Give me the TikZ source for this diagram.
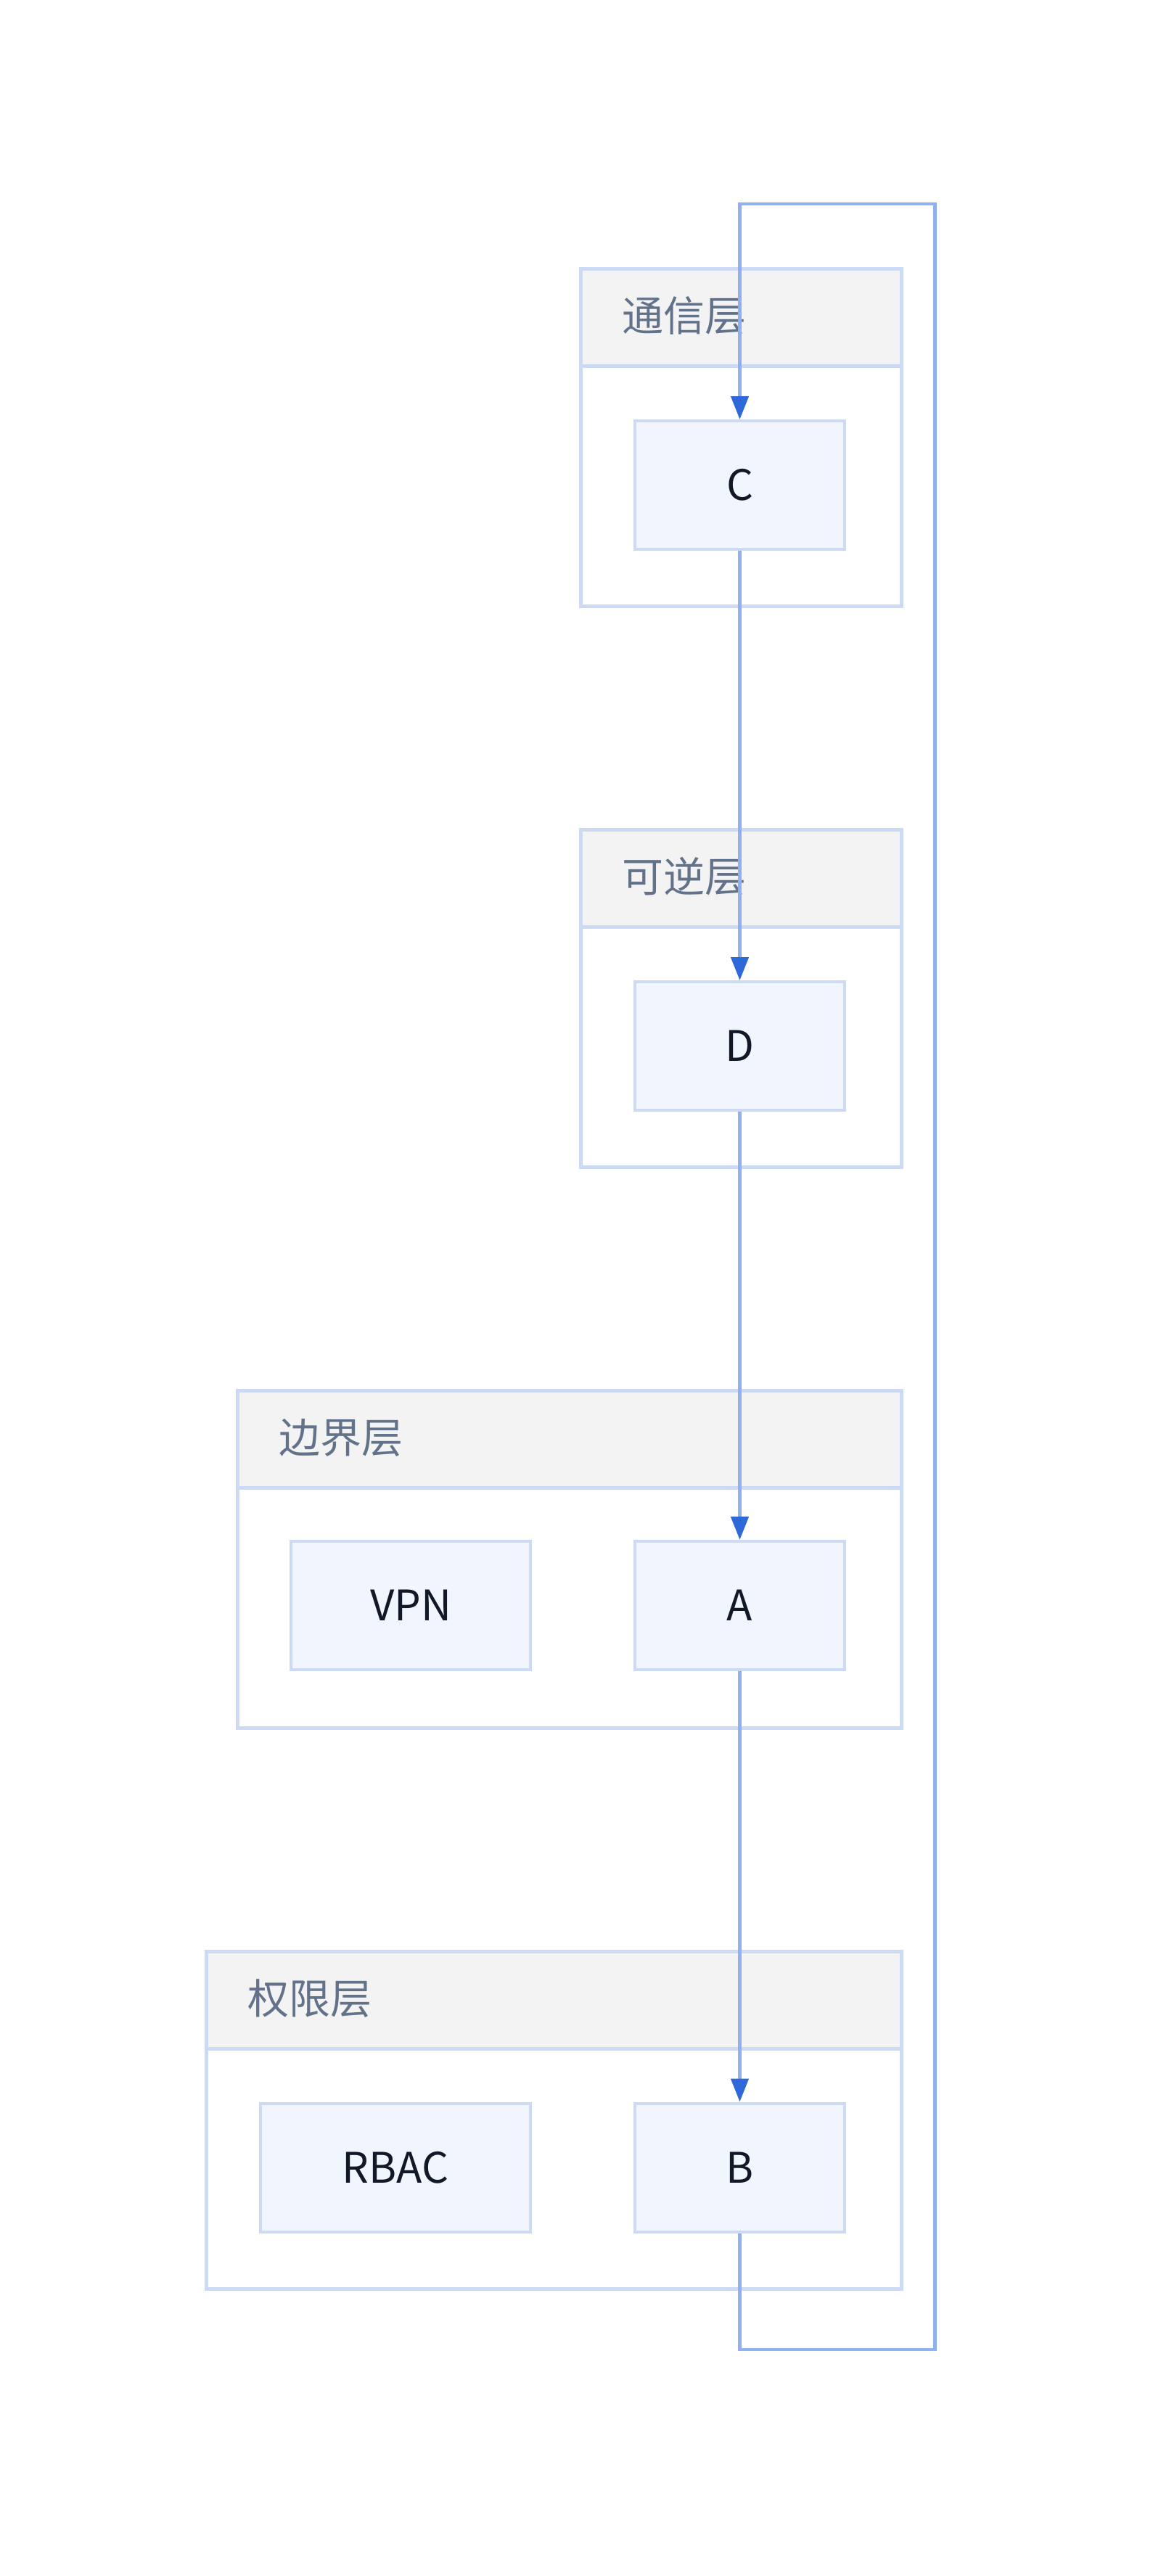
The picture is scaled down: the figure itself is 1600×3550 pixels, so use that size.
\documentclass[tikz,border=0pt]{standalone}
\usepackage{fontspec}
\setmainfont{Noto Sans CJK SC}
\usetikzlibrary{arrows.meta}
\definecolor{clborder}{HTML}{CCDBF3}
\definecolor{hdrfill}{HTML}{F3F3F3}
\definecolor{boxfill}{HTML}{F1F6FE}
\definecolor{edgeblue}{HTML}{8FB1EF}
\definecolor{tipblue}{HTML}{2F69D9}
\definecolor{hdrtext}{HTML}{62728A}
\definecolor{nodetext}{HTML}{111827}
\tikzset{
  cluster/.style={draw=clborder, line width=4.5pt, fill=white, minimum height=465pt, inner sep=0pt},
  header/.style={draw=clborder, line width=4.5pt, fill=hdrfill, minimum height=134pt, inner sep=0pt},
  hdrlabel/.style={anchor=west, text=hdrtext, font=\fontsize{57}{60}\selectfont, inner sep=0pt},
  box/.style={draw=clborder, line width=4pt, fill=boxfill, minimum height=177pt, inner sep=0pt, text=nodetext, font=\fontsize{58}{60}\selectfont},
  edge/.style={draw=edgeblue, line width=4.5pt, -{Triangle[length=32pt,width=24pt,color=tipblue]}},
  loopedge/.style={draw=edgeblue, line width=4.5pt}
}
\begin{document}
\begin{tikzpicture}[x=1pt,y=-1pt]
\useasboundingbox (0,0) rectangle (1600,3550);
% clusters
\foreach \nm/\lx/\ty/\lab in {c1/798/368/通信层, c2/798/1141/可逆层, c3/325/1914/边界层, c4/282/2687/权限层}{
  \node[cluster, minimum width={1240pt-\lx pt}, anchor=north west] (\nm) at (\lx,\ty) {};
  \node[header, minimum width={1240pt-\lx pt}, anchor=north west] (\nm h) at (\lx,\ty) {};
  \node[hdrlabel] (\nm t) at ({\lx+59},{\ty+67}) {\lab};
}
% nodes
\node[box, minimum width=289pt] (C) at (1019.5,668.5) {C};
\node[box, minimum width=289pt] (D) at (1019.5,1441.5) {D};
\node[box, minimum width=289pt] (A) at (1019.5,2212.5) {A};
\node[box, minimum width=330pt] (VPN) at (566,2212.5) {VPN};
\node[box, minimum width=289pt] (B) at (1019.5,2987) {B};
\node[box, minimum width=372pt] (RBAC) at (545,2987) {RBAC};
% edges
\draw[edge] (C.south) -- (D.north);
\draw[edge] (D.south) -- (A.north);
\draw[edge] (A.south) -- (B.north);
\coordinate (lb) at (1019.5,3238);
\coordinate (rb) at (1288.5,3238);
\coordinate (rt) at (1288.5,281);
\coordinate (lt) at (1019.5,281);
\draw[loopedge] (B.south) -- (lb) -- (rb) -- (rt) -- (lt) -- ++(0,20);
\draw[edge] (lt) -- (C.north);
\end{tikzpicture}
\end{document}
